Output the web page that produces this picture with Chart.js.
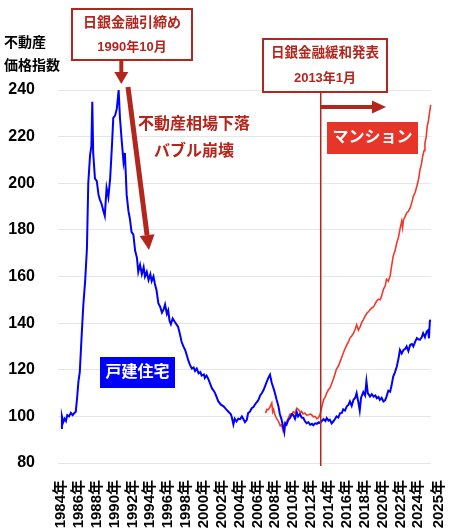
<!DOCTYPE html>
<html>
<head>
<meta charset="utf-8">
<script src="https://cdn.jsdelivr.net/npm/chart.js@4/dist/chart.umd.min.js"></script>
<style>
  html, body { margin: 0; padding: 0; background: #fff; }
  canvas { display: block; }
</style>
</head>
<body>
<canvas id="priceChart" width="450" height="528"></canvas>
<script>
// 不動産価格指数 (2010年平均 = 100)

// x axis labels
const tickLabels = ['1984年', '1986年', '1988年', '1990年', '1992年', '1994年', '1996年',
    '1998年', '2000年', '2002年', '2004年', '2006年', '2008年', '2010年', '2012年',
    '2014年', '2016年', '2018年', '2020年', '2022年', '2024年', '2025年'];

const yMin = 80;
const yMax = 240;
const yStep = 20;

// 戸建住宅
const houseYears = [
    1984.0, 1984.1, 1984.25, 1984.4, 1984.55, 1984.7, 1984.9, 1985.1, 1985.3, 1985.5,
    1985.65, 1985.8, 1985.95, 1986.1, 1986.3, 1986.5, 1986.7, 1986.9, 1987.05, 1987.25,
    1987.4, 1987.5, 1987.6, 1987.8, 1988.0, 1988.2, 1988.35, 1988.55, 1988.75, 1988.9,
    1989.1, 1989.3, 1989.5, 1989.7, 1989.85, 1990.05, 1990.25, 1990.45, 1990.6, 1990.8,
    1991.0, 1991.15, 1991.35, 1991.55, 1991.7, 1991.9, 1992.1, 1992.3, 1992.5, 1992.65,
    1992.85, 1993.05, 1993.25, 1993.4, 1993.6, 1993.8, 1994.0, 1994.15, 1994.35, 1994.5,
    1994.7, 1994.9, 1995.1, 1995.3, 1995.5, 1995.65, 1995.85, 1996.0, 1996.15, 1996.3,
    1996.5, 1996.75, 1997.1, 1997.3, 1997.5, 1997.7, 1997.9, 1998.1, 1998.25, 1998.45,
    1998.65, 1998.85, 1999.0, 1999.2, 1999.4, 1999.6, 1999.75, 2000.0, 2000.1, 2000.3,
    2000.5, 2000.7, 2000.9, 2001.1, 2001.25, 2001.45, 2001.6, 2001.9, 2002.2, 2002.5,
    2002.75, 2003.0, 2003.1, 2003.3, 2003.45, 2003.65, 2003.85, 2004.05, 2004.25, 2004.4,
    2004.6, 2004.8, 2004.95, 2005.15, 2005.35, 2005.55, 2005.7, 2005.9, 2006.1, 2006.3,
    2006.5, 2006.7, 2006.85, 2007.0, 2007.2, 2007.4, 2007.5, 2007.6, 2007.8, 2007.95,
    2008.15, 2008.35, 2008.5, 2008.7, 2008.85, 2009.0, 2009.1, 2009.25, 2009.45, 2009.65,
    2009.85, 2010.0, 2010.2, 2010.4, 2010.55, 2010.75, 2010.95, 2011.15, 2011.3, 2011.5,
    2011.7, 2011.9, 2012.1, 2012.25, 2012.45, 2012.65, 2012.85, 2013.0, 2013.2, 2013.4,
    2013.6, 2013.75, 2013.95, 2014.1, 2014.3, 2014.5, 2014.7, 2014.85, 2015.05, 2015.25,
    2015.45, 2015.6, 2015.8, 2016.0, 2016.2, 2016.35, 2016.55, 2016.75, 2016.95, 2017.1,
    2017.3, 2017.45, 2017.6, 2017.85, 2018.05, 2018.2, 2018.35, 2018.6, 2018.8, 2019.0,
    2019.2, 2019.35, 2019.55, 2019.7, 2019.9, 2020.1, 2020.3, 2020.45, 2020.65, 2020.85,
    2021.0, 2021.2, 2021.4, 2021.6, 2021.8, 2021.95, 2022.15, 2022.35, 2022.55, 2022.7,
    2022.9, 2023.1, 2023.3, 2023.45, 2023.65, 2023.85, 2024.05, 2024.2, 2024.4, 2024.55,
    2024.75, 2024.95, 2025.1, 2025.2, 2025.3, 2025.35];
const houseIndex = [
    95, 100, 97.5, 99, 98, 100.5, 100, 101.5, 100.5, 101.5,
    102, 108, 115, 119, 134, 148, 158, 172, 200, 212,
    216, 235, 213, 202, 201, 195, 193, 191, 188, 186,
    198, 194, 202, 216, 228, 229, 232, 240, 228, 218,
    209, 213, 195, 188, 185, 179, 178, 171, 168, 162,
    165, 161, 164, 160, 162, 158.5, 161, 158, 160, 157,
    154, 148.5, 147, 144.5, 146, 148, 144, 145.5, 141, 139.5,
    142, 140.5, 138.5, 135.5, 132, 130, 128.5, 126, 124, 122,
    120.5, 121, 119.5, 120.5, 118.5, 119, 117.5, 118, 116.5, 117.5,
    116, 114, 112, 111, 110, 108, 106.5, 105, 104.3, 103,
    102, 101, 100, 96.5, 99, 97.8, 99, 98.8, 100, 99,
    97.5, 98.5, 101.4, 102, 103.5, 104, 105, 106, 107, 109,
    110, 111.5, 113, 114.5, 116.4, 117.9, 116, 114.3, 112, 110,
    107, 104.3, 101, 98.6, 96, 93.3, 97, 96.4, 98.5, 99.3,
    101, 100.7, 99, 101.8, 100, 101, 99.5, 99.3, 98, 97.1,
    97.5, 96.4, 96.8, 96.2, 97, 96.8, 97.5, 97.1, 98, 98.8,
    98, 99.3, 98.2, 98.6, 97, 97.9, 99, 100, 99.5, 101.4,
    101.5, 103, 102.5, 104.3, 105, 106.4, 104.5, 107.1, 108, 110,
    106, 102.5, 108, 110.4, 109, 115, 110, 108.5, 109.5, 108.5,
    109, 107.8, 108.3, 107.1, 108, 106.4, 107, 108.5, 111, 110.6,
    113, 117.1, 119, 121.4, 125, 128.5, 127, 128.5, 129, 130,
    128, 130.7, 131, 130, 132, 133.6, 133, 132.9, 134, 135.7,
    134, 136.4, 137, 133.5, 140.7, 141.5];

// マンション
const mansionYears = [
    2006.9, 2007.05, 2007.2, 2007.4, 2007.6, 2007.7, 2007.8, 2007.95, 2008.15, 2008.35,
    2008.55, 2008.7, 2008.85, 2009.0, 2009.1, 2009.3, 2009.45, 2009.65, 2009.85, 2010.0,
    2010.2, 2010.4, 2010.6, 2010.8, 2010.95, 2011.1, 2011.3, 2011.5, 2011.7, 2011.9,
    2012.05, 2012.25, 2012.45, 2012.65, 2012.8, 2013.0, 2013.2, 2013.4, 2013.6, 2013.75,
    2013.95, 2014.1, 2014.3, 2014.5, 2014.7, 2014.85, 2015.05, 2015.25, 2015.45, 2015.6,
    2015.8, 2016.0, 2016.2, 2016.35, 2016.55, 2016.75, 2016.95, 2017.1, 2017.3, 2017.5,
    2017.7, 2017.85, 2018.05, 2018.25, 2018.45, 2018.6, 2018.8, 2019.0, 2019.2, 2019.35,
    2019.55, 2019.75, 2019.9, 2020.1, 2020.3, 2020.45, 2020.65, 2020.85, 2021.0, 2021.2,
    2021.4, 2021.6, 2021.8, 2021.95, 2022.15, 2022.25, 2022.35, 2022.5, 2022.7, 2022.9,
    2023.1, 2023.3, 2023.45, 2023.65, 2023.85, 2024.05, 2024.2, 2024.35, 2024.5, 2024.65,
    2024.75, 2024.9, 2025.0, 2025.15, 2025.25, 2025.4];
const mansionIndex = [
    101.4, 103, 102.9, 104, 105.7, 102, 103, 100.7, 99, 97.9,
    96, 96.4, 94, 96, 97.1, 98, 99.3, 101, 100.7, 102,
    101.4, 103.5, 102.9, 101.5, 102.1, 101, 101.4, 100.5, 100.7, 101,
    100.7, 99.8, 100, 99, 99.3, 100.7, 104, 107.1, 108.5, 110,
    111.5, 112, 114, 116, 118.5, 120.4, 121.5, 123.5, 125.5, 127.1,
    129, 130.7, 132, 133.6, 134.5, 135.7, 137.5, 139.3, 137, 138.5,
    140.5, 141.4, 143, 144.3, 145, 145.7, 146.5, 147, 148.5, 149.5,
    150.3, 150, 151.7, 154.5, 156, 158.8, 158, 160.2, 164, 168.8,
    171, 174.5, 177, 180.2, 183.7, 181, 184.4, 185.5, 187.3, 188,
    189.4, 192, 194.4, 196, 198.7, 202, 205.8, 208, 211.5, 214,
    217.2, 220, 224.3, 227, 230, 233.6];

const tightenYear = 1990.75; // 1990年10月
const easingYear = 2013.08;  // 2013年1月

const darkRed = '#b3261e';
const lineRed = '#ee3a2c';
const boxRed = '#e8352a';
const blue = '#0000ff';
const FONT = "'Liberation Sans', 'Noto Sans CJK JP', sans-serif";

const toPoints = (xs, ys) => xs.map((x, i) => ({ x: x, y: ys[i] }));

// 矢印
function arrow(ctx, x1, y1, x2, y2, shaft, headLen, headHalf) {
    const ang = Math.atan2(y2 - y1, x2 - x1);
    const bx = x2 - Math.cos(ang) * headLen;
    const by = y2 - Math.sin(ang) * headLen;
    ctx.save();
    ctx.strokeStyle = darkRed;
    ctx.fillStyle = darkRed;
    ctx.lineWidth = shaft;
    ctx.beginPath();
    ctx.moveTo(x1, y1);
    ctx.lineTo(bx, by);
    ctx.stroke();
    ctx.beginPath();
    ctx.moveTo(x2, y2);
    ctx.lineTo(bx + Math.sin(ang) * headHalf, by - Math.cos(ang) * headHalf);
    ctx.lineTo(bx - Math.sin(ang) * headHalf, by + Math.cos(ang) * headHalf);
    ctx.closePath();
    ctx.fill();
    ctx.restore();
}

function textBox(ctx, x, y, w, h, lines, opts) {
    ctx.save();
    ctx.fillStyle = opts.fill;
    ctx.fillRect(x, y, w, h);
    if (opts.stroke) {
        ctx.strokeStyle = opts.stroke;
        ctx.lineWidth = 2;
        ctx.strokeRect(x, y, w, h);
    }
    ctx.fillStyle = opts.color;
    ctx.textAlign = 'center';
    ctx.textBaseline = 'middle';
    lines.forEach(l => {
        ctx.font = 'bold ' + l.size + 'px ' + FONT;
        ctx.fillText(l.text, x + w / 2, y + l.dy);
    });
    ctx.restore();
}

const annotations = {
    id: 'annotations',
    afterDraw(chart) {
        const ctx = chart.ctx;
        const xs = chart.scales.x;
        const area = chart.chartArea;

        // y axis title
        ctx.save();
        ctx.fillStyle = '#000';
        ctx.font = 'bold 14px ' + FONT;
        ctx.textAlign = 'left';
        ctx.textBaseline = 'middle';
        ctx.fillText('不動産', 4, 43);
        ctx.fillText('価格指数', 4, 66);
        ctx.restore();

        // 日銀金融引締め
        const tx = xs.getPixelForValue(tightenYear);
        textBox(ctx, 72, 9, 120, 51, [
            { text: '日銀金融引締め', size: 14, dy: 14 },
            { text: '1990年10月', size: 13, dy: 38 }
        ], { fill: '#fff', stroke: darkRed, color: darkRed });
        arrow(ctx, tx, 60, tx, 84, 4, 12, 7);

        // 下落
        arrow(ctx, 128, 87, 149, 250, 5, 15, 7.5);
        ctx.save();
        ctx.fillStyle = darkRed;
        ctx.font = 'bold 16px ' + FONT;
        ctx.textAlign = 'center';
        ctx.textBaseline = 'middle';
        ctx.fillText('不動産相場下落', 194, 125);
        ctx.fillText('バブル崩壊', 194, 152);
        ctx.restore();

        // 日銀金融緩和発表
        const ex = xs.getPixelForValue(easingYear);
        ctx.save();
        ctx.strokeStyle = darkRed;
        ctx.lineWidth = 1.5;
        ctx.beginPath();
        ctx.moveTo(ex, 92);
        ctx.lineTo(ex, area.bottom + 3);
        ctx.stroke();
        ctx.restore();
        textBox(ctx, 263, 39, 124, 53, [
            { text: '日銀金融緩和発表', size: 13.5, dy: 14 },
            { text: '2013年1月', size: 13, dy: 39 }
        ], { fill: '#fff', stroke: darkRed, color: darkRed });
        arrow(ctx, ex, 107, 386, 107, 4, 14, 6.5);

        // series labels
        textBox(ctx, 327, 122, 91, 32, [
            { text: 'マンション', size: 16, dy: 16 }
        ], { fill: boxRed, color: '#fff' });
        textBox(ctx, 100, 357, 75, 31, [
            { text: '戸建住宅', size: 16, dy: 15.5 }
        ], { fill: blue, color: '#fff' });
    }
};

new Chart(document.getElementById('priceChart'), {
    type: 'line',
    data: {
        datasets: [{
            label: '戸建住宅',
            data: toPoints(houseYears, houseIndex),
            borderColor: blue,
            borderWidth: 2,
            pointRadius: 0,
            tension: 0,
            clip: 4
        }, {
            label: 'マンション',
            data: toPoints(mansionYears, mansionIndex),
            borderColor: lineRed,
            borderWidth: 1.6,
            pointRadius: 0,
            tension: 0,
            clip: 4
        }]
    },
    options: {
        responsive: false,
        animation: false,
        layout: { padding: { top: 90, right: 19, left: 0, bottom: 0 } },
        plugins: {
            legend: { display: false },
            tooltip: { enabled: false }
        },
        scales: {
            x: {
                type: 'linear',
                min: 1983.66,
                max: 2025.43,
                afterBuildTicks: scale => {
                    // labels every 2 years, last one placed one step further as in the source
                    scale.ticks = tickLabels.map((l, i) => ({
                        value: i < tickLabels.length - 1 ? parseInt(l) : parseInt(tickLabels[i - 1]) + 2.3
                    }));
                },
                afterFit: scale => {
                    scale.height = 65;
                    scale.paddingLeft = 0;
                    scale.paddingRight = 0;
                },
                grid: { display: false },
                border: { display: false },
                ticks: {
                    autoSkip: false,
                    minRotation: 90,
                    maxRotation: 90,
                    padding: 9,
                    color: '#000',
                    font: { family: FONT, size: 15, weight: 'bold' },
                    callback: (v, i) => tickLabels[i]
                }
            },
            y: {
                min: yMin,
                max: yMax,
                afterFit: scale => { scale.width = 58; },
                grid: { color: '#e6e6e6', lineWidth: 1, drawTicks: false },
                border: { display: false },
                ticks: {
                    stepSize: yStep,
                    padding: 23,
                    color: '#000',
                    font: { family: FONT, size: 16, weight: 'bold' }
                }
            }
        }
    },
    plugins: [annotations]
});
</script>
</body>
</html>
